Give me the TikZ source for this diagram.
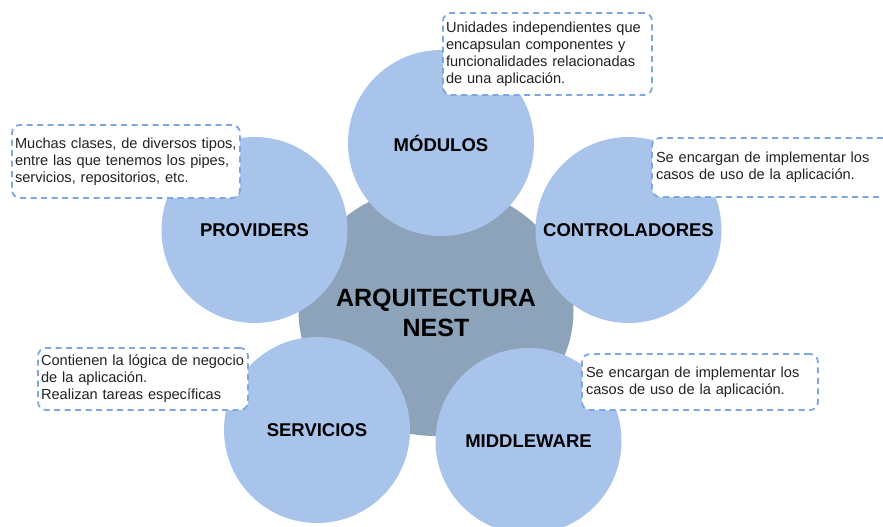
\documentclass[tikz,border=0pt]{standalone}
\usepackage{fontspec}
\setmainfont{Liberation Sans}
\usetikzlibrary{shapes.geometric}
\definecolor{satfill}{HTML}{A9C4EB}
\definecolor{corefill}{HTML}{8CA3B9}
\definecolor{dashblue}{HTML}{7EA6E0}
\definecolor{notetext}{HTML}{222222}
\tikzset{
  core/.style={ellipse, fill=corefill, inner sep=0pt, minimum width=275pt, minimum height=250pt},
  coretext/.style={inner sep=0pt, align=center, font=\fontsize{25pt}{29.5pt}\selectfont\bfseries},
  sat/.style={circle, fill=satfill, inner sep=0pt, minimum size=186pt,
    font=\fontsize{18.5pt}{20pt}\selectfont\bfseries},
  note/.style={draw=dashblue, fill=white, line width=1.8pt, dash pattern=on 6pt off 4.5pt,
    rounded corners=8pt, inner xsep=3pt, inner ysep=0pt, align=left, text=notetext,
    font=\fontsize{14.6pt}{17pt}\selectfont}
}
\begin{document}
\begin{tikzpicture}[x=1pt,y=-1pt]
\useasboundingbox (0,0) rectangle (883,527);
\node[core] (core) at (436,311) {};
\node[coretext] (coret) at (436,313) {ARQUITECTURA\\NEST};
\node[sat] (mod) at (441,143) {MÓDULOS};
\node[sat] (ctrl) at (628.5,230) {CONTROLADORES};
\node[sat] (prov) at (254.5,230) {PROVIDERS};
\node[sat] (serv) at (317,430) {SERVICIOS};
\node[sat] (midd) at (528.5,441) {MIDDLEWARE};
\node[note, text width=203pt, minimum height=82pt] (nmod) at (547.5,54)
  {\mbox{Unidades independientes que}\\\mbox{encapsulan componentes y}\\\mbox{funcionalidades relacionadas}\\\mbox{de una aplicación.}};
\node[note, text width=222pt, minimum height=73pt] (nprov) at (126,161.5)
  {\mbox{Muchas clases, de diversos tipos,}\\\mbox{entre las que tenemos los pipes,}\\\mbox{servicios, repositorios, etc.}};
\node[note, text width=231pt, minimum height=59pt, inner xsep=4pt] (nctrl) at (771.5,167.5)
  {\mbox{Se encargan de implementar los}\\\mbox{casos de uso de la aplicación.}};
\node[note, text width=204pt, minimum height=62pt] (nserv) at (143,379)
  {\mbox{Contienen la lógica de negocio}\\\mbox{de la aplicación.}\\\mbox{Realizan tareas específicas}};
\node[note, text width=228pt, minimum height=56pt, inner xsep=4pt] (nmidd) at (700,382)
  {\mbox{Se encargan de implementar los}\\\mbox{casos de uso de la aplicación.}};
\end{tikzpicture}
\end{document}
